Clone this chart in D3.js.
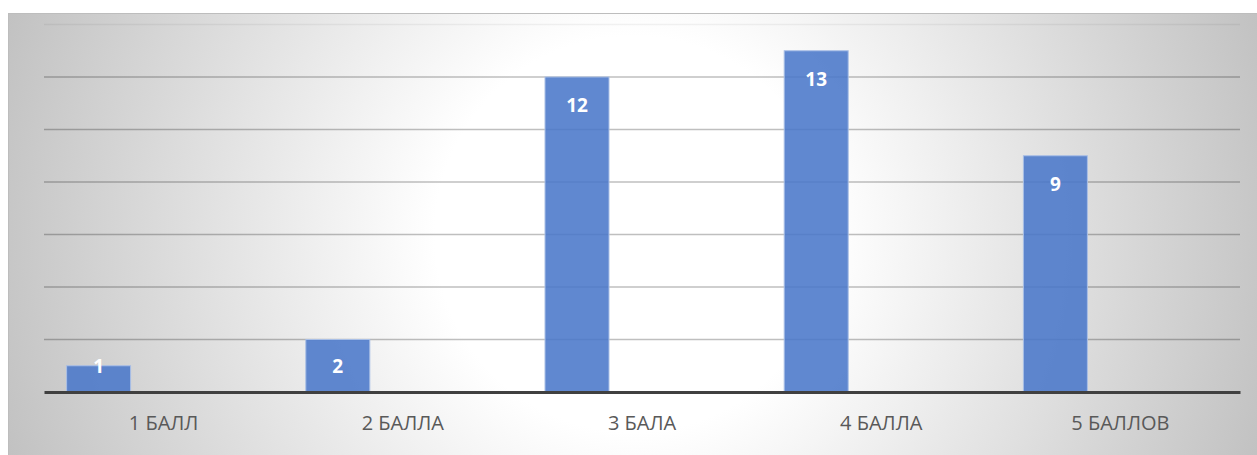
<!DOCTYPE html>
<html>
<head>
<meta charset="utf-8">
<script src="https://cdn.jsdelivr.net/npm/d3@7"></script>
<style>
	html, body { margin: 0; padding: 0; background: #fff; overflow: hidden; }
	svg { display: block; }
</style>
</head>
<body>
<script>
	// DATA
	const categories = ['1 БАЛЛ', '2 БАЛЛА', '3 БАЛА', '4 БАЛЛА', '5 БАЛЛОВ'];
	const values = [1, 2, 12, 13, 9];
	const gridTicks = [2, 4, 6, 8, 10, 12, 14];
	const seriesSlots = ['s1', 's2', 's3'];

	// CONFIGURATION
	const width = 1257;
	const height = 455;
	const plot = { left: 44, right: 1240, top: 24.5, bottom: 392 };

	const svg = d3.select('body')
		.append('svg')
		.attr('width', width)
		.attr('height', height);

	// BACKGROUND
	const defs = svg.append('defs');
	const grad = defs.append('radialGradient')
		.attr('id', 'bg')
		.attr('gradientUnits', 'userSpaceOnUse')
		.attr('cx', 633)
		.attr('cy', 234)
		.attr('r', 660);
	grad.append('stop').attr('offset', '0%').attr('stop-color', '#ffffff');
	grad.append('stop').attr('offset', '30%').attr('stop-color', '#ffffff');
	grad.append('stop').attr('offset', '100%').attr('stop-color', '#c2c2c2');

	svg.append('rect')
		.attr('x', 8.5)
		.attr('y', 13.5)
		.attr('width', width + 10)
		.attr('height', height + 10)
		.attr('fill', 'url(#bg)')
		.attr('stroke', '#bdbdbd')
		.attr('stroke-width', 1);

	// SCALES
	const xScale = d3.scaleBand()
		.domain(categories)
		.range([plot.left, plot.right])
		.padding(0);
	const slotScale = d3.scaleBand()
		.domain(seriesSlots)
		.range([0, xScale.bandwidth()])
		.paddingInner(0)
		.paddingOuter(0.34);
	const yScale = d3.scaleLinear()
		.domain([0, 14])
		.range([plot.bottom, plot.top]);

	// GRIDLINES
	svg.append('g')
		.selectAll('line')
		.data(gridTicks)
		.enter()
		.append('line')
		.attr('x1', plot.left)
		.attr('x2', plot.right)
		.attr('y1', d => yScale(d))
		.attr('y2', d => yScale(d))
		.attr('stroke', '#000')
		.attr('stroke-opacity', d => d === 14 ? 0.05 : 0.25)
		.attr('stroke-width', 1.5);

	// BARS
	const data = categories.map((c, i) => ({ category: c, value: values[i] }));
	svg.append('g')
		.selectAll('rect')
		.data(data)
		.enter()
		.append('rect')
		.attr('x', d => xScale(d.category) + slotScale('s1') + 0.5)
		.attr('y', d => yScale(d.value))
		.attr('width', slotScale.bandwidth() - 1)
		.attr('height', d => yScale(0) - yScale(d.value))
		.attr('fill', '#4a78c9')
		.attr('fill-opacity', 0.88)
		.attr('stroke', '#a9bfe6')
		.attr('stroke-width', 1);

	// X AXIS
	const xAxis = d3.axisBottom(xScale).tickSize(0).tickPadding(0);
	const gx = svg.append('g')
		.attr('transform', `translate(0, ${yScale(0)})`)
		.call(xAxis);
	gx.select('.domain')
		.attr('stroke', '#404040')
		.attr('stroke-width', 3);
	gx.selectAll('text')
		.attr('dy', null)
		.attr('y', 38)
		.attr('fill', '#595959')
		.style('font-family', '"Open Sans", sans-serif')
		.style('font-size', '20px');

	// VALUE LABELS
	svg.append('g')
		.selectAll('text')
		.data(data)
		.enter()
		.append('text')
		.attr('x', d => xScale(d.category) + slotScale('s1') + slotScale.bandwidth() / 2)
		.attr('y', d => Math.min(yScale(d.value) + 35, yScale(0) - 19))
		.attr('text-anchor', 'middle')
		.attr('fill', '#ffffff')
		.style('font-family', '"Open Sans", sans-serif')
		.style('font-weight', 'bold')
		.style('font-size', '19px')
		.text(d => d.value);
</script>
</body>
</html>
